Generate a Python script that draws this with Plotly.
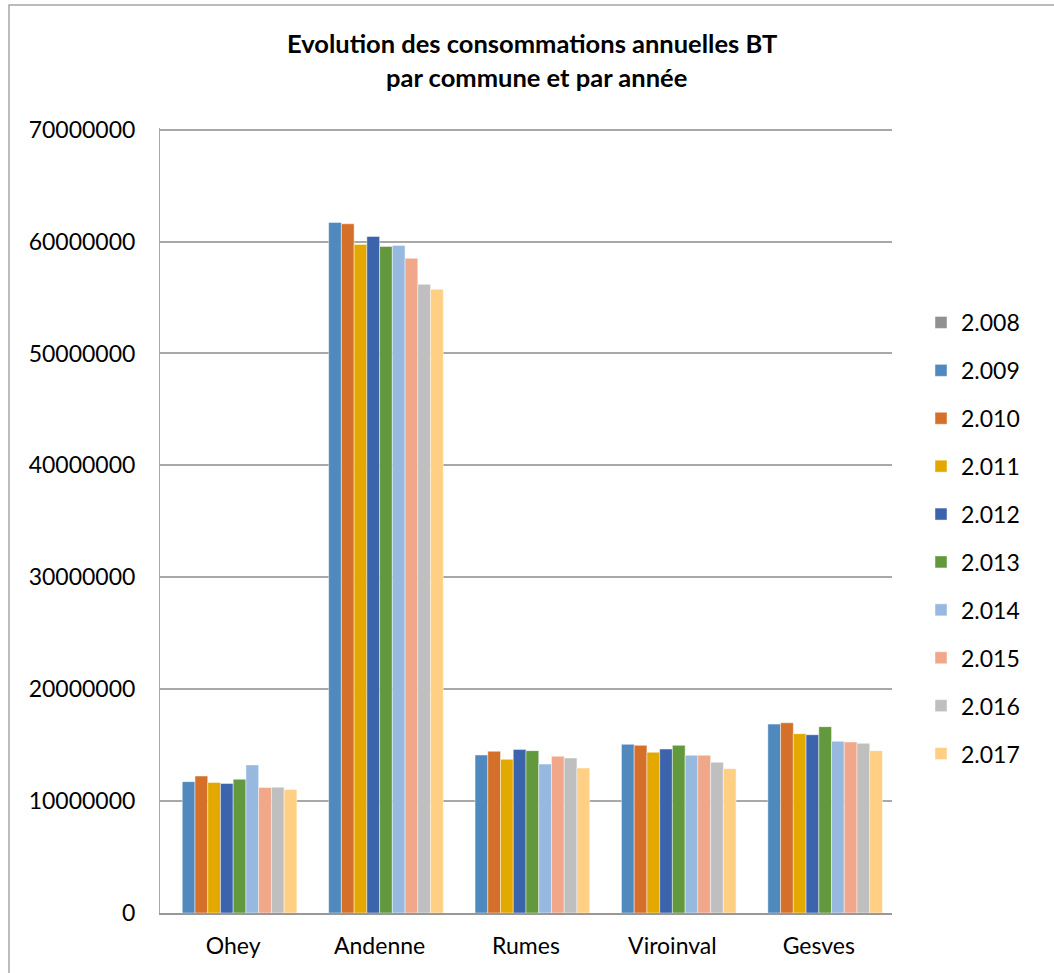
import plotly.graph_objects as go

communes = ["Ohey", "Andenne", "Rumes", "Viroinval", "Gesves"]
years = ["2.008", "2.009", "2.010", "2.011", "2.012", "2.013", "2.014", "2.015", "2.016", "2.017"]

v2008 = [None, None, None, None, None]
v2009 = [11740000, 61710000, 14120000, 15070000, 16880000]
v2010 = [12240000, 61590000, 14450000, 14980000, 17000000]
v2011 = [11660000, 59750000, 13730000, 14360000, 16020000]
v2012 = [11570000, 60460000, 14620000, 14650000, 15930000]
v2013 = [11950000, 59570000, 14510000, 14980000, 16650000]
v2014 = [13230000, 59660000, 13310000, 14090000, 15340000]
v2015 = [11210000, 58500000, 14000000, 14090000, 15280000]
v2016 = [11240000, 56180000, 13850000, 13470000, 15160000]
v2017 = [11030000, 55730000, 12960000, 12900000, 14510000]

series = [v2008, v2009, v2010, v2011, v2012, v2013, v2014, v2015, v2016, v2017]
colors = ["#919191", "#4f89be", "#d4702a", "#e3a900", "#3c64ac", "#62993d",
          "#98b9df", "#f0a78a", "#bfbfbf", "#ffcf84"]

FONT = "Lato"
W, H = 1054, 973
L, R, T, B = 160, 162, 128, 60
PW, PH = W - L - R, H - T - B


def px_x(x):
    return (x - L) / PW


def px_y(y):
    return (H - B - y) / PH


fig = go.Figure()
for name, vals, col in zip(years, series, colors):
    fig.add_trace(go.Bar(
        x=communes, y=vals, name=name, legendgroup=name,
        marker=dict(color=col, line=dict(color="rgba(255,255,255,0.45)", width=1)),
    ))

fig.update_layout(
    width=W, height=H,
    margin=dict(l=L, r=R, t=T, b=B),
    paper_bgcolor="white", plot_bgcolor="white",
    barmode="group", bargap=0.13, bargroupgap=0,
    font=dict(family=FONT, size=23, color="#000000"),
    showlegend=True,
    legend=dict(
        xref="container", yref="container",
        x=921 / W, y=1 - 301 / H, xanchor="left", yanchor="top",
        font=dict(family=FONT, size=23, color="#000000"),
        tracegroupgap=15, bgcolor="rgba(0,0,0,0)", maxheight=700,
    ),
    xaxis=dict(
        showgrid=False, showline=True, linecolor="#989898", linewidth=2,
        ticks="", tickfont=dict(family=FONT, size=23, color="#000000"),
        ticklabelstandoff=11,
    ),
    yaxis=dict(
        range=[0, 70150000], dtick=10000000, tick0=0, tickformat="d",
        showgrid=True, gridcolor="#a8a8a8", gridwidth=1.5,
        showline=True, linecolor="#a8a8a8", linewidth=1,
        zeroline=False, ticks="",
        tickfont=dict(family=FONT, size=23, color="#000000"),
        ticklabelstandoff=19,
    ),
    annotations=[
        dict(text="<b>Evolution des consommations annuelles BT</b>", xref="paper", yref="paper",
             x=px_x(532), y=px_y(43), xanchor="center", yanchor="middle", showarrow=False,
             font=dict(family=FONT, size=25.5, color="#000000")),
        dict(text="<b>par commune et par année</b>", xref="paper", yref="paper",
             x=px_x(536), y=px_y(77), xanchor="center", yanchor="middle", showarrow=False,
             font=dict(family=FONT, size=25.5, color="#000000")),
    ],
    shapes=[
        dict(type="rect", xref="paper", yref="paper",
             x0=px_x(9), x1=px_x(1080), y0=px_y(1000), y1=px_y(5),
             line=dict(color="#a6a6a6", width=1.5), fillcolor="rgba(0,0,0,0)", layer="below"),
    ],
)

fig.write_html("out.html", config={"displayModeBar": False},
               post_script="document.body.style.margin='0';document.body.style.overflow='hidden';")
